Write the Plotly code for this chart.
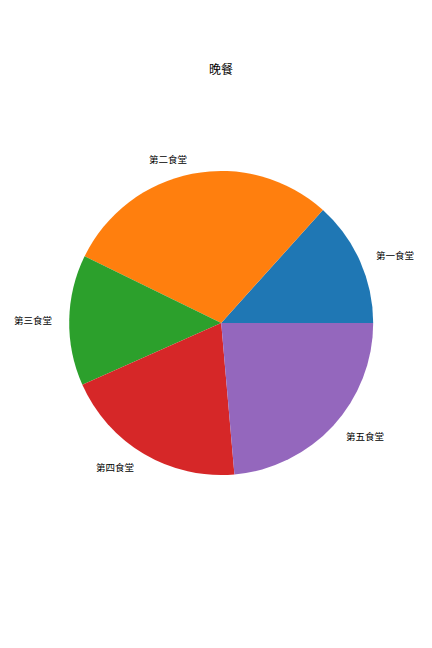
import numpy as np
import plotly.graph_objects as go

labels = ["第一食堂", "第二食堂", "第三食堂", "第四食堂", "第五食堂"]
values = [48, 106, 50, 71, 85]
colors = ["#1f77b4", "#ff7f0e", "#2ca02c", "#d62728", "#9467bd"]
title = "晚餐"

W, H = 432, 648
off_x, off_y = 8.0, 7.0  # page body offset
cx, cy, r = 221.2 - off_x, 322.0 - off_y, 152.0  # pixel centre / radius (from top)

vals = np.array(values, dtype=float)
first_frac = vals[0] / vals.sum() * 360.0

fig = go.Figure(go.Pie(
    labels=labels, values=values, sort=False, direction="counterclockwise",
    rotation=90 - first_frac, marker=dict(colors=colors, line=dict(width=0)),
    textinfo="none", hoverinfo="label+percent", showlegend=False,
    domain=dict(x=[(cx - r) / W, (cx + r) / W],
                y=[(H - cy - r) / H, (H - cy + r) / H]),
))

# matplotlib-style labels at 1.1 r, mid-angle of each wedge
cum = np.cumsum(vals) / vals.sum() * 360.0
start = np.concatenate([[0.0], cum[:-1]])
mid = np.deg2rad((start + cum) / 2.0)
annotations = []
for lab, a in zip(labels, mid):
    px = cx + 1.1 * r * np.cos(a)
    py = cy - 1.1 * r * np.sin(a)
    annotations.append(dict(
        x=px / W, y=1 - py / H, xref="paper", yref="paper", text=lab,
        showarrow=False, xanchor="left" if np.cos(a) > 0 else "right",
        yanchor="middle", font=dict(size=9.5, color="#000000",
                                    family="Noto Sans CJK SC")))

annotations.append(dict(x=cx / W, y=1 - (68 - off_y) / H, xref="paper",
                        yref="paper", text=title, showarrow=False,
                        xanchor="center", yanchor="middle",
                        font=dict(size=12, color="#000000",
                                  family="Noto Sans CJK SC")))

fig.update_layout(width=W, height=H, margin=dict(l=0, r=0, t=0, b=0),
                  paper_bgcolor="white", plot_bgcolor="white",
                  annotations=annotations)
fig.write_html("out.html")
